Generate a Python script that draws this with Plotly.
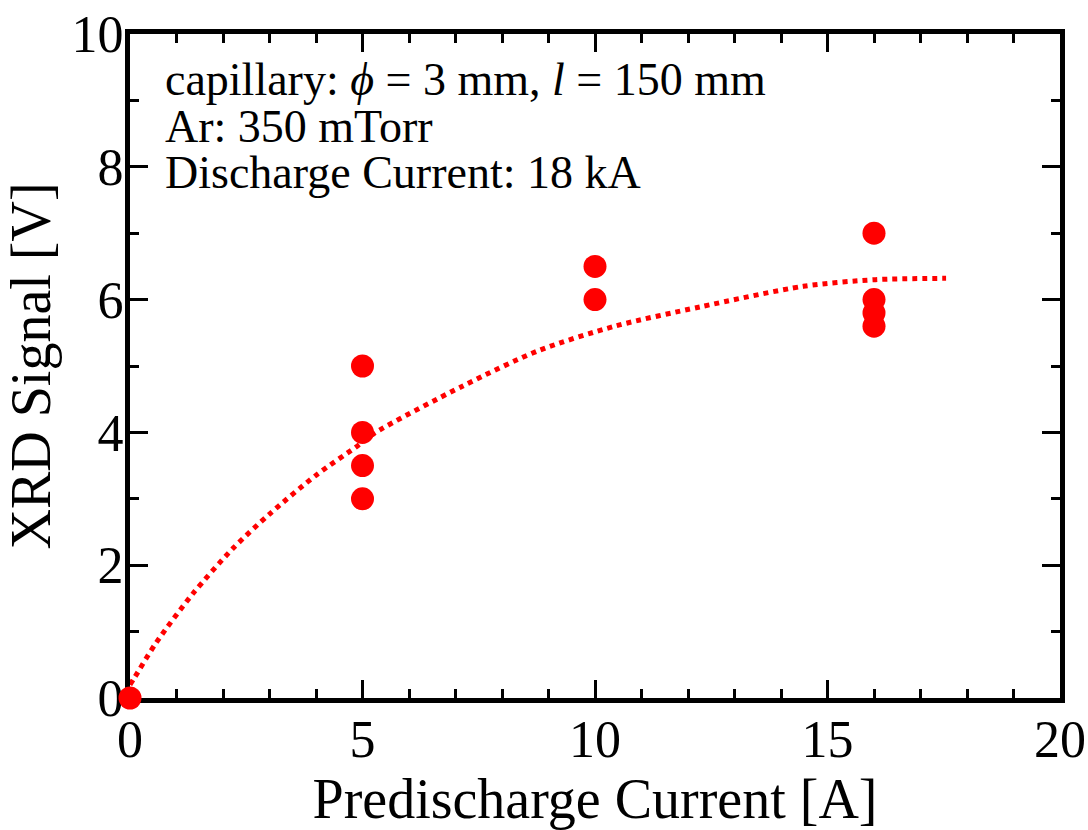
import plotly.graph_objects as go

# Measured data
predischarge_current = [0, 5, 5, 5, 5, 10, 10, 16, 16, 16, 16]
xrd_signal = [0, 5.0, 4.0, 3.5, 3.0, 6.5, 6.0, 7.0, 6.0, 5.8, 5.6]

# Fitted trend curve
fit_x = [0, 0.10, 0.56, 1.35, 2.21, 3.00, 4.01, 4.90, 5.26, 7.16, 8.78, 10.43, 12.26, 14.48, 16.03, 17.55]
fit_y = [0.20, 0.31, 0.83, 1.57, 2.25, 2.77, 3.36, 3.80, 3.99, 4.70, 5.23, 5.60, 5.89, 6.20, 6.30, 6.32]

info_lines = [
    "capillary: <i>ϕ</i> = 3 mm, <i>l</i> = 150 mm",
    "Ar: 350 mTorr",
    "Discharge Current: 18 kA",
]
info_y = [9.31, 8.60, 7.91]

FONT = "Liberation Serif, Times New Roman, serif"
RED = "#ff0000"

fig = go.Figure()
fig.add_trace(go.Scatter(
    x=fit_x, y=fit_y, mode="lines",
    line=dict(color=RED, width=5, dash="5px,5px", shape="spline", smoothing=0.8),
    hoverinfo="skip", showlegend=False,
))
fig.add_trace(go.Scatter(
    x=predischarge_current, y=xrd_signal, mode="markers",
    marker=dict(color=RED, size=23, line=dict(width=0)),
    cliponaxis=False, showlegend=False,
))

for txt, yy in zip(info_lines, info_y):
    fig.add_annotation(x=0.70, y=yy, xref="x", yref="y", text=txt,
                       showarrow=False, xanchor="left", yanchor="middle",
                       font=dict(family=FONT, size=46, color="black"))

axis_common = dict(
    showline=True, linecolor="black", linewidth=5, mirror="ticks",
    ticks="inside", ticklen=18, tickwidth=2.5, tickcolor="black",
    showgrid=False, zeroline=False,
    tickfont=dict(family=FONT, size=52, color="black"),
    layer="below traces",
)

fig.update_xaxes(range=[0, 20], tick0=0, dtick=5, ticklabelstandoff=-8,
                 minor=dict(ticks="inside", dtick=1, ticklen=9, tickwidth=2.5, tickcolor="black"),
                 title=dict(text="Predischarge Current [A]", font=dict(family=FONT, size=56, color="black"), standoff=22),
                 **axis_common)
fig.update_yaxes(range=[0, 10], tick0=0, dtick=2, ticklabelstandoff=-9,
                 minor=dict(ticks="inside", dtick=1, ticklen=9, tickwidth=2.5, tickcolor="black"),
                 title=dict(text="XRD Signal [V]", font=dict(family=FONT, size=56, color="black"), standoff=12),
                 **axis_common)

fig.update_layout(
    width=1088, height=830,
    margin=dict(l=130, r=28, t=34, b=132, autoexpand=False),
    paper_bgcolor="white", plot_bgcolor="white",
    font=dict(family=FONT, color="black"),
)

fig.write_html("out.html")
